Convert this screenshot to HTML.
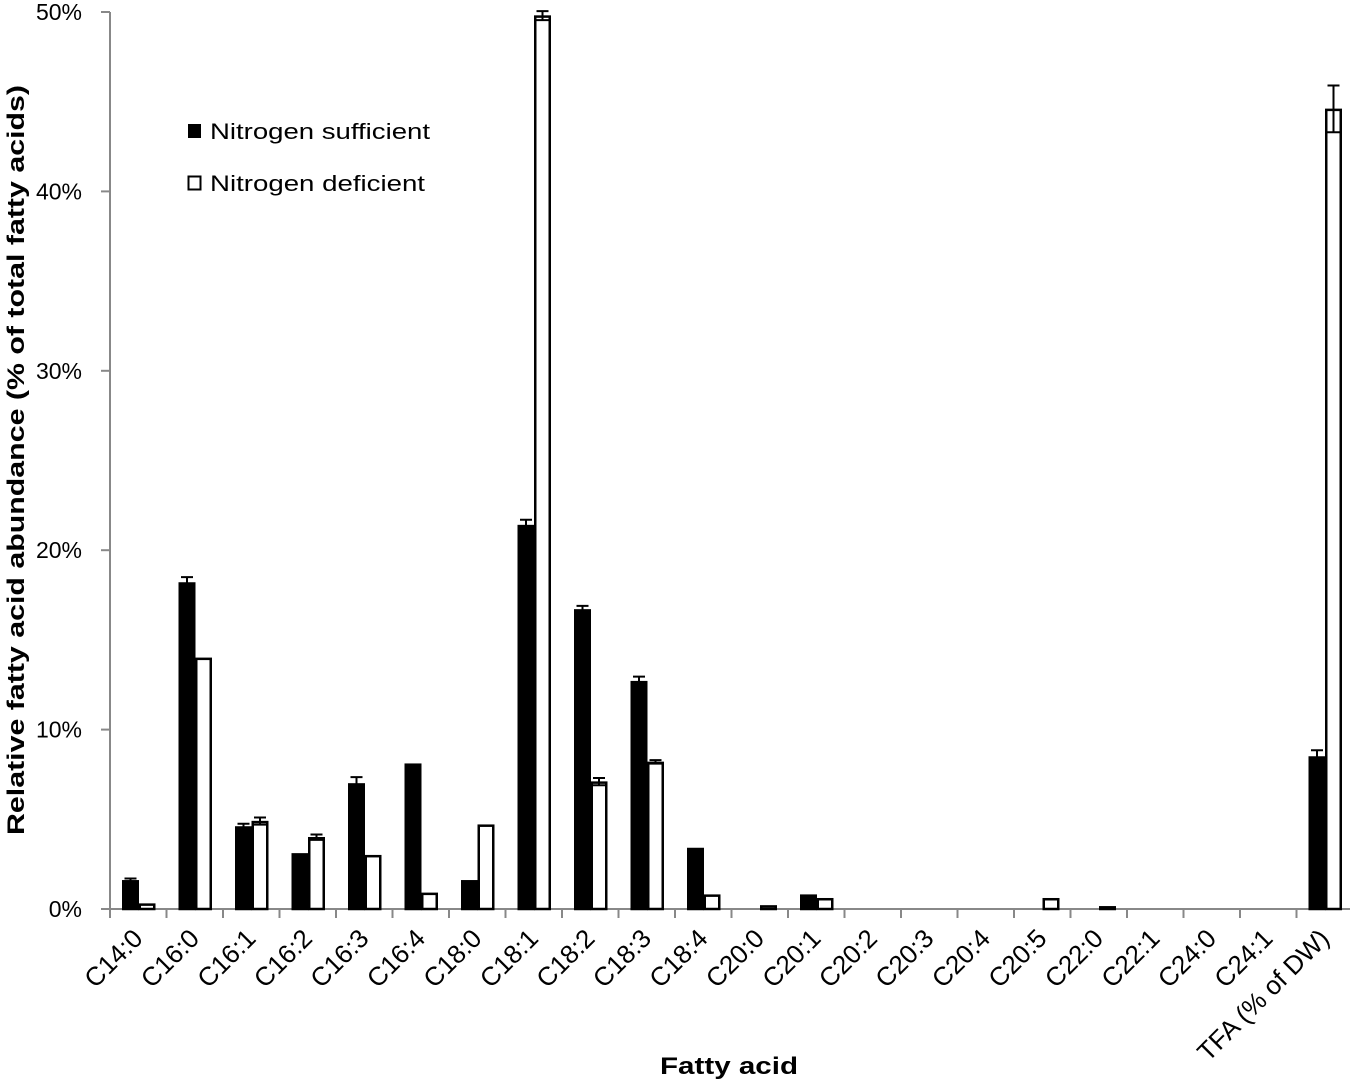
<!DOCTYPE html>
<html><head><meta charset="utf-8"><style>
body{margin:0;background:#fff;}
svg{display:block;font-family:"Liberation Sans",sans-serif;}
</style></head><body>
<svg id="chart" width="1350" height="1082" viewBox="0 0 1350 1082" xmlns="http://www.w3.org/2000/svg">
<g id="axes"></g>
<g id="bars"></g>
<g>
  <rect x="188" y="124" width="13" height="14" fill="#000"/>
  <text x="210" y="139" font-size="22" textLength="220" lengthAdjust="spacingAndGlyphs">Nitrogen sufficient</text>
  <rect x="188.5" y="176.5" width="12" height="13" fill="#fff" stroke="#000" stroke-width="2"/>
  <text x="210" y="191" font-size="22" textLength="215" lengthAdjust="spacingAndGlyphs">Nitrogen deficient</text>
</g>
<text transform="translate(24,460) rotate(-90)" text-anchor="middle" font-size="24" font-weight="bold" textLength="750" lengthAdjust="spacingAndGlyphs">Relative fatty acid abundance (% of total fatty acids)</text>
<text x="729" y="1074" text-anchor="middle" font-size="24" font-weight="bold" textLength="138" lengthAdjust="spacingAndGlyphs">Fatty acid</text>
</svg>
<script>
const categories = ["C14:0","C16:0","C16:1","C16:2","C16:3","C16:4","C18:0","C18:1","C18:2","C18:3","C18:4","C20:0","C20:1","C20:2","C20:3","C20:4","C20:5","C22:0","C22:1","C24:0","C24:1","TFA (% of DW)"];
const sufficient = [1.6,18.2,4.6,3.1,7.0,8.1,1.6,21.4,16.7,12.7,3.4,0,0.8,0,0,0,0,0,0,0,0,8.5];
const sufficientErr = [0.1,0.3,0.15,0,0.35,0,0,0.3,0.2,0.25,0,0,0,0,0,0,0,0,0,0,0,0.35];
const deficient = [0.3,14.0,4.9,4.0,3.0,0.9,4.7,49.8,7.1,8.2,0.8,0.2,0.6,0,0,0,0.6,0.15,0,0,0,44.6];
const deficientErr = [0,0,0.2,0.15,0,0,0,0.25,0.2,0.1,0,0,0,0,0,0,0,0,0,0,0,1.3];
const yTicks = [0,10,20,30,40,50];

const NS="http://www.w3.org/2000/svg";
const X0=110, Y0=909, STEP=56.5, PXPER=17.94, BW=16.5;
const yPos = v => Y0 - v*PXPER;
const xPos = i => X0 + i*STEP;
function mk(tag, attrs, parent){const e=document.createElementNS(NS,tag);for(const k in attrs)e.setAttribute(k,attrs[k]);parent.appendChild(e);return e;}
const axes=document.getElementById('axes'), bars=document.getElementById('bars');

let yl=mk('line',{x1:X0,y1:yPos(50),x2:X0,y2:Y0,stroke:'#888','stroke-width':2},axes);


let xl=mk('line',{x1:X0-8,y1:Y0,x2:1350,y2:Y0,stroke:'#888','stroke-width':2},axes);


yTicks.forEach(t=>{
  const y=yPos(t);
  const tk=mk('line',{x1:X0-9,y1:y,x2:X0,y2:y,stroke:'#888','stroke-width':2},axes);
  
  
  const tx=mk('text',{x:82,y:y+8,'text-anchor':'end','font-size':23},axes);
  tx.textContent=t+'%';
  
  
});
categories.forEach((c,i)=>{
  const xt=xPos(i);
  const tk=mk('line',{x1:xt,y1:Y0,x2:xt,y2:Y0+9,stroke:'#888','stroke-width':2},axes);
  
  
  const cx=xPos(i)+STEP/2;
  const tx=mk('text',{transform:`translate(${cx+6},${Y0+31}) rotate(-45)`,'text-anchor':'end','font-size':26},axes);
  tx.textContent=c;
  
  

  function bar(v,err,x,fill,name){
    if(v>0){
      const h=Y0-yPos(v);
      const r=mk('rect',{x:x+1,y:yPos(v)+1,width:BW-2,height:Math.max(h-1,0.5),fill:fill,stroke:'#000','stroke-width':2.5},bars);
      
      
    }
    if(err>0){
      const xm=x+BW/2;
      const e=mk('path',{d:`M${xm},${yPos(v+err)}V${yPos(v-err)}M${xm-6},${yPos(v+err)}H${xm+6}M${xm-6},${yPos(v-err)}H${xm+6}`,stroke:'#000','stroke-width':2,fill:'none'},bars);
      
      
    }
  }
  bar(sufficient[i],sufficientErr[i],cx-BW+0.5,'#000','bar-sufficient');
  bar(deficient[i],deficientErr[i],cx+0.5,'#fff','bar-deficient');
});
</script>
</body></html>
